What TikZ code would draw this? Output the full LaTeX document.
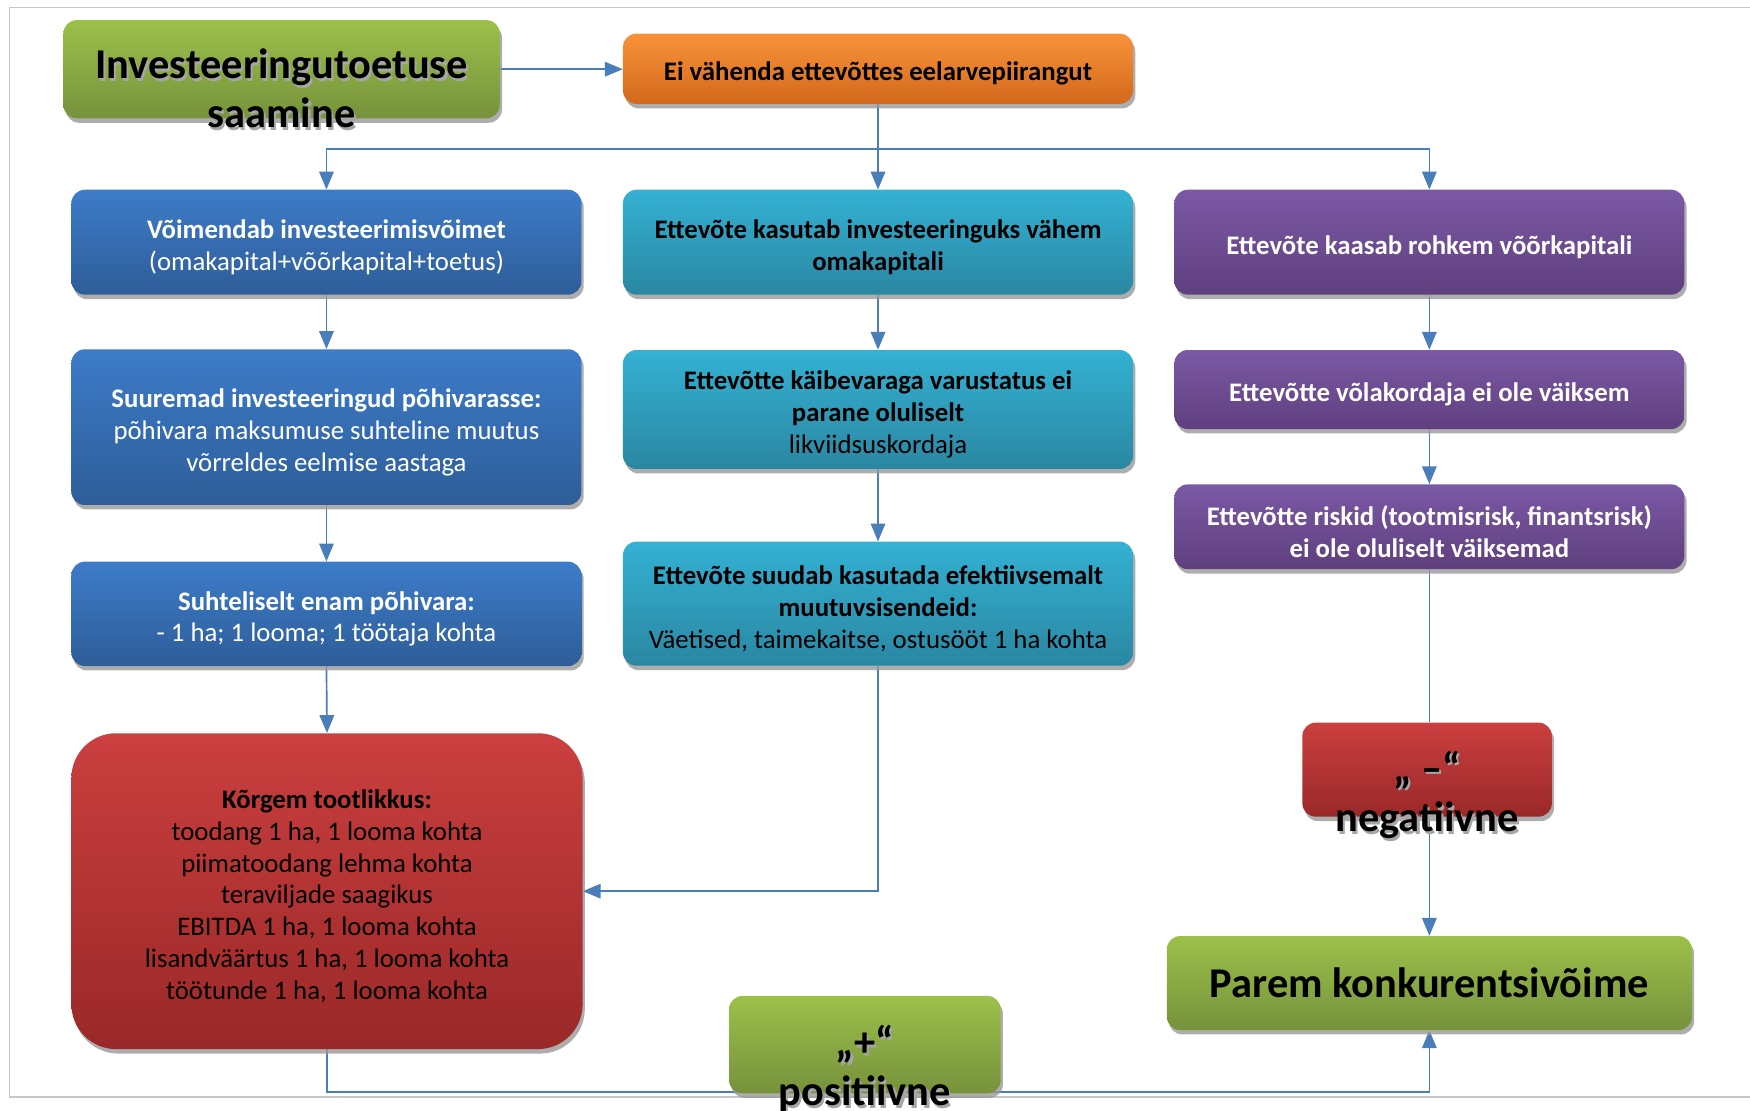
\documentclass[tikz,border=0pt]{standalone}
\usepackage{fontspec}
\setmainfont{Carlito}
\usetikzlibrary{arrows.meta,shadows,backgrounds}

\definecolor{grtop}{HTML}{9CC04A}
\definecolor{grbot}{HTML}{76923C}
\definecolor{ortop}{HTML}{F8923A}
\definecolor{orbot}{HTML}{D3691C}
\definecolor{bltop}{HTML}{3D7CC9}
\definecolor{blbot}{HTML}{2E5D98}
\definecolor{tetop}{HTML}{34B1D3}
\definecolor{tebot}{HTML}{2A87A2}
\definecolor{putop}{HTML}{7B59A5}
\definecolor{pubot}{HTML}{5F3F7E}
\definecolor{retop}{HTML}{CB3F3F}
\definecolor{rebot}{HTML}{9A2828}
\definecolor{connblue}{HTML}{4A7EBB}
\definecolor{framegray}{HTML}{C8C8C8}

\newcommand{\bodysize}{\fontsize{24}{28.5}\selectfont}
\newcommand{\titlesize}{\fontsize{38}{44}\selectfont\bfseries}
\newcommand{\tugi}{\rule{0pt}{26pt}}

\begin{document}
\begin{tikzpicture}[x=1pt,y=-1pt,
    box/.style={rounded corners=12pt, minimum width=457pt, align=center,
      inner sep=0pt, font=\bodysize, execute at begin node={\tugi},
      drop shadow={shadow xshift=2pt, shadow yshift=-4pt, fill=black!40, opacity=0.8}},
    greenbox/.style={box, top color=grtop, bottom color=grbot},
    orangebox/.style={box, top color=ortop, bottom color=orbot},
    bluebox/.style={box, top color=bltop, bottom color=blbot, text=white},
    tealbox/.style={box, top color=tetop, bottom color=tebot},
    purplebox/.style={box, top color=putop, bottom color=pubot, text=white},
    redbox/.style={box, top color=retop, bottom color=rebot},
    titletext/.style={align=center, inner sep=0pt, font=\titlesize},
    tshadow/.style={titletext, text=black!35},
    line/.style={draw=connblue, line width=1.5pt},
    conn/.style={line, -{Triangle[length=16pt,width=13pt]}}]
  \useasboundingbox (0,0) rectangle (1568,995);

  % Frame
  \draw[framegray, line width=1.5pt] (1568,6.6) -- (8.6,6.6) -- (8.6,982.7) -- (1568,982.7);

  % Top row
  \node[greenbox, minimum width=391pt, minimum height=88pt] (toetus) at (252.3,62) {};
  \node[tshadow] (toetusvari) at (254.3,81.7) {Investeeringutoetuse\\saamine};
  \node[titletext] (toetustekst) at (252.3,79.2) {Investeeringutoetuse\\saamine};
  \node[orangebox, minimum height=63pt] (eivah) at (786.7,61.6) {\bfseries Ei vähenda ettevõttes eelarvepiirangut};
  \coordinate (jaotus) at (786.7,133.8);

  % Left column
  \node[bluebox, minimum height=94pt] (voim) at (292.5,217) {\tugi\bfseries Võimendab investeerimisvõimet\\(omakapital+võõrkapital+toetus)};
  \node[bluebox, minimum height=139.5pt] (pohiinv) at (292.5,382.7) {\tugi\bfseries Suuremad investeeringud põhivarasse:\\põhivara maksumuse suhteline muutus\\võrreldes eelmise aastaga};
  \node[bluebox, minimum height=93.5pt] (pohivara) at (292.5,550) {\tugi\bfseries Suhteliselt enam põhivara:\\- 1 ha; 1 looma; 1 töötaja kohta};
  \node[redbox, rounded corners=40pt, minimum width=458pt, minimum height=283pt] (tootlik) at (293,798.5) {\tugi\bfseries Kõrgem tootlikkus:\\toodang 1 ha, 1 looma kohta\\piimatoodang lehma kohta\\teraviljade saagikus\\EBITDA 1 ha, 1 looma kohta\\lisandväärtus 1 ha, 1 looma kohta\\töötunde 1 ha, 1 looma kohta};

  % Middle column
  \node[tealbox, minimum height=94pt] (omakap) at (786.7,217) {\tugi\bfseries Ettevõte kasutab investeeringuks vähem\\\bfseries omakapitali};
  \node[tealbox, minimum height=106.6pt] (kaibe) at (786.7,366.9) {\tugi\bfseries Ettevõtte käibevaraga varustatus ei\\\bfseries parane oluliselt\\likviidsuskordaja};
  \node[tealbox, minimum height=111.2pt] (sisend) at (786.7,540.9) {\tugi\bfseries Ettevõte suudab kasutada efektiivsemalt\\\bfseries muutuvsisendeid:\\Väetised, taimekaitse, ostusööt 1 ha kohta};
  \node[greenbox, minimum width=243.4pt, minimum height=87.3pt] (pos) at (774.9,936) {};
  \node[tshadow] (posvari) at (776.9,960) {„+“\\positiivne};
  \node[titletext] (postekst) at (774.9,957.5) {„+“\\positiivne};

  % Right column
  \node[purplebox, minimum height=94pt] (voorkap) at (1280.7,217) {\bfseries Ettevõte kaasab rohkem võõrkapitali};
  \node[purplebox, minimum height=70.8pt] (volg) at (1280.7,349) {\bfseries Ettevõtte võlakordaja ei ole väiksem};
  \node[purplebox, minimum height=76pt] (riskid) at (1280.7,472) {\tugi\bfseries Ettevõtte riskid (tootmisrisk, finantsrisk)\\\bfseries ei ole oluliselt väiksemad};
  \node[redbox, minimum width=223.6pt, minimum height=84.2pt] (neg) at (1278.7,689.6) {};
  \node[tshadow] (negvari) at (1280.7,714.5) {„ –“\\negatiivne};
  \node[titletext] (negtekst) at (1278.7,712) {„ –“\\negatiivne};
  \node[greenbox, minimum width=470.5pt, minimum height=84.2pt, font=\titlesize] (parem) at (1280.7,880.8) {Parem konkurentsivõime};

  % Connectors
  \begin{scope}[on background layer]
    \draw[conn] (toetus.east) -- (toetus.east -| eivah.west);
    \draw[conn] (eivah.south) -- (omakap.north);
    \draw[conn] (jaotus) -| (voim.north);
    \draw[conn] (jaotus) -| (voorkap.north);
    \draw[conn] (voim.south) -- (pohiinv.north);
    \draw[conn] (pohiinv.south) -- (pohivara.north);
    \draw[conn] (pohivara.south) -- (tootlik.north);
    \draw[conn] (omakap.south) -- (kaibe.north);
    \draw[conn] (kaibe.south) -- (sisend.north);
    \draw[conn] (sisend.south) |- (tootlik.east);
    \draw[conn] (voorkap.south) -- (volg.north);
    \draw[conn] (volg.south) -- (riskid.north);
    \draw[line] (riskid.south) -- (riskid.south |- neg.north);
    \draw[conn] (riskid.south |- neg.south) -- (parem.north);
    \draw[conn] (tootlik.south) -- ++(0,38.2) -| (parem.south);
  \end{scope}
\end{tikzpicture}
\end{document}
